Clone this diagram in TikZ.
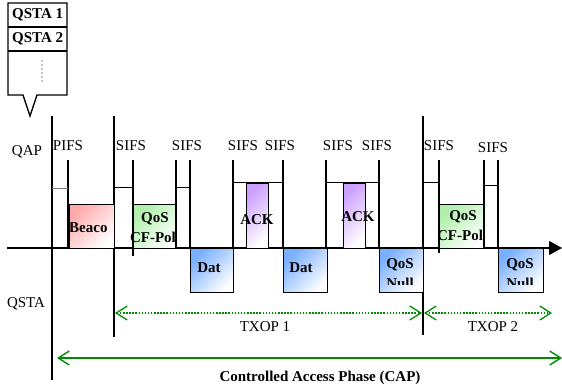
\documentclass[tikz,border=0pt]{standalone}
\usepackage{fontspec}
\setmainfont{Liberation Serif}
\usetikzlibrary{arrows.meta}
\definecolor{grn}{RGB}{0,140,0}
\definecolor{pinkc}{RGB}{255,170,170}
\definecolor{greenc}{RGB}{175,240,170}
\definecolor{purplec}{RGB}{205,160,255}
\definecolor{bluec}{RGB}{120,175,255}
\tikzset{mybarb/.tip={Straight Barb[length=11pt,width=14pt]}}
\begin{document}
\begin{tikzpicture}[x=1pt,y=-1pt,font=\fontsize{15}{17}\selectfont,
  ln/.style={line width=1.2pt},
  hl/.style={line width=1pt},
  framebox/.style={draw,line width=1.3pt,inner sep=0pt,anchor=north west},
  lbl/.style={font=\fontsize{15}{17}\selectfont\bfseries,inner sep=0pt},
  txt/.style={inner sep=0pt},
  gline/.style={draw=grn,line width=1.4pt},
]
\useasboundingbox (0,0) rectangle (562,390);

% callout
\draw[line width=1.3pt,fill=white] (37,95) -- (67,95) -- (67,3) -- (8,3) -- (8,95) -- (23,95) -- (30,116) -- cycle;
\draw[line width=1.2pt] (8,27) -- (67,27);
\draw[line width=1.2pt] (8,51) -- (67,51);
\node[lbl,anchor=west] (q1) at (12,15) {QSTA 1};
\node[lbl,anchor=west] (q2) at (12,39) {QSTA 2};
\foreach \yy in {61,65,...,81} \fill (42,\yy) circle (0.55);

% side labels
\node[txt] (qap) at (27,152) {QAP};
\node[txt] (qsta) at (26,304) {QSTA};

% baseline
\draw[line width=1.3pt,-{Triangle[length=13pt,width=14pt]}] (7,248) -- (562,248);

% tall lines
\draw[ln] (52,116) -- (52,380);
\draw[ln] (114,116) -- (114,337);
\draw[ln] (423,116) -- (423,335);

% IFS labels
\node[txt] (pifs) at (68,146) {PIFS};
\node[txt] (s1) at (131,146) {SIFS};
\node[txt] (s2) at (187,146) {SIFS};
\node[txt] (s3) at (243,146) {SIFS};
\node[txt] (s4) at (280,146) {SIFS};
\node[txt] (s5) at (338,146) {SIFS};
\node[txt] (s6) at (377,146) {SIFS};
\node[txt] (s7) at (439,146) {SIFS};
\node[txt] (s8) at (493,148) {SIFS};

% boxes
\node[framebox,minimum width=45pt,minimum height=44pt,top color=pinkc,bottom color=white,shading angle=45] (beacon) at (69,204) {};
\node[framebox,minimum width=43pt,minimum height=44pt,top color=greenc,bottom color=white,shading angle=45] (poll1) at (133,204) {};
\node[framebox,minimum width=43pt,minimum height=44pt,top color=bluec,bottom color=white,shading angle=45] (dat1) at (190,248) {};
\node[framebox,minimum width=22pt,minimum height=65pt,top color=purplec,bottom color=white,shading angle=45] (ack1) at (246,183) {};
\node[framebox,minimum width=44pt,minimum height=44pt,top color=bluec,bottom color=white,shading angle=45] (dat2) at (283,248) {};
\node[framebox,minimum width=22pt,minimum height=65pt,top color=purplec,bottom color=white,shading angle=45] (ack2) at (343,183) {};
\node[framebox,minimum width=44pt,minimum height=44pt,top color=bluec,bottom color=white,shading angle=45] (null1) at (379,248) {};
\node[framebox,minimum width=45pt,minimum height=44pt,top color=greenc,bottom color=white,shading angle=45] (poll2) at (439,204) {};
\node[framebox,minimum width=45pt,minimum height=44pt,top color=bluec,bottom color=white,shading angle=45] (null2) at (498,248) {};

% steps
\draw[ln] (68,160) -- (68,248);
\draw[gray,line width=0.7pt] (52,188) -- (68,188);
\draw[hl] (114,188) -- (133,188);
\draw[ln] (133,160) -- (133,256);
\draw[ln] (176,160) -- (176,248);
\draw[hl] (176,188) -- (190,188);
\draw[ln] (190,160) -- (190,248);
\draw[ln] (233,160) -- (233,248);
\draw[hl] (233,183) -- (283,183);
\draw[ln] (283,160) -- (283,248);
\draw[ln] (326,160) -- (326,248);
\draw[hl] (326,183) -- (379,183);
\draw[ln] (379,160) -- (379,248);
\draw[hl] (423,183) -- (439,183);
\draw[ln] (439,160) -- (439,253);
\draw[ln] (484,160) -- (484,248);
\draw[hl] (484,186) -- (498,186);
\draw[ln] (498,160) -- (498,248);

% box labels
\node[lbl,anchor=west] (tbeacon) at (69,228) {Beaco};
\node[lbl] (tp1a) at (155,219) {QoS};
\node[lbl] (tp1b) at (153,237) {CF-Pol};
\node[lbl] (tdat1) at (209,268) {Dat};
\node[lbl] (tack1) at (257,220) {ACK};
\node[lbl] (tdat2) at (301,268) {Dat};
\node[lbl] (tack2) at (358,217) {ACK};
\node[lbl] (tn1a) at (400,265) {QoS};
\begin{scope}
\clip (379,248) rectangle (422,284);
\node[lbl,anchor=base] (tn1b) at (400,288) {Null};
\end{scope}
\node[lbl] (tp2a) at (463,217) {QoS};
\begin{scope}
\clip (439,204) rectangle (484,248);
\node[lbl] (tp2b) at (460,235) {CF-Pol};
\end{scope}
\node[lbl] (tn2a) at (520,265) {QoS};
\begin{scope}
\clip (498,248) rectangle (543,284);
\node[lbl,anchor=base] (tn2b) at (520,288) {Null};
\end{scope}

% TXOP / CAP arrows
\coordinate (t1a) at (115,313);
\coordinate (t1b) at (422,313);
\coordinate (t2a) at (424,313);
\coordinate (t2b) at (552,313);
\draw[gline,dash pattern=on 1.5pt off 1.6pt,line width=1.3pt,mybarb-mybarb] (t1a) -- (t1b);
\draw[gline,dash pattern=on 1.5pt off 1.6pt,line width=1.3pt,mybarb-mybarb] (t2a) -- (t2b);
\node[txt] (txop1) at (265,327) {TXOP 1};
\node[txt] (txop2) at (493,327) {TXOP 2};
\coordinate (ca) at (57,358);
\coordinate (cb) at (562,358);
\draw[gline,mybarb-mybarb] (ca) -- (cb);
\node[lbl] (cap) at (320,378) {Controlled Access Phase (CAP)};
\end{tikzpicture}
\end{document}
